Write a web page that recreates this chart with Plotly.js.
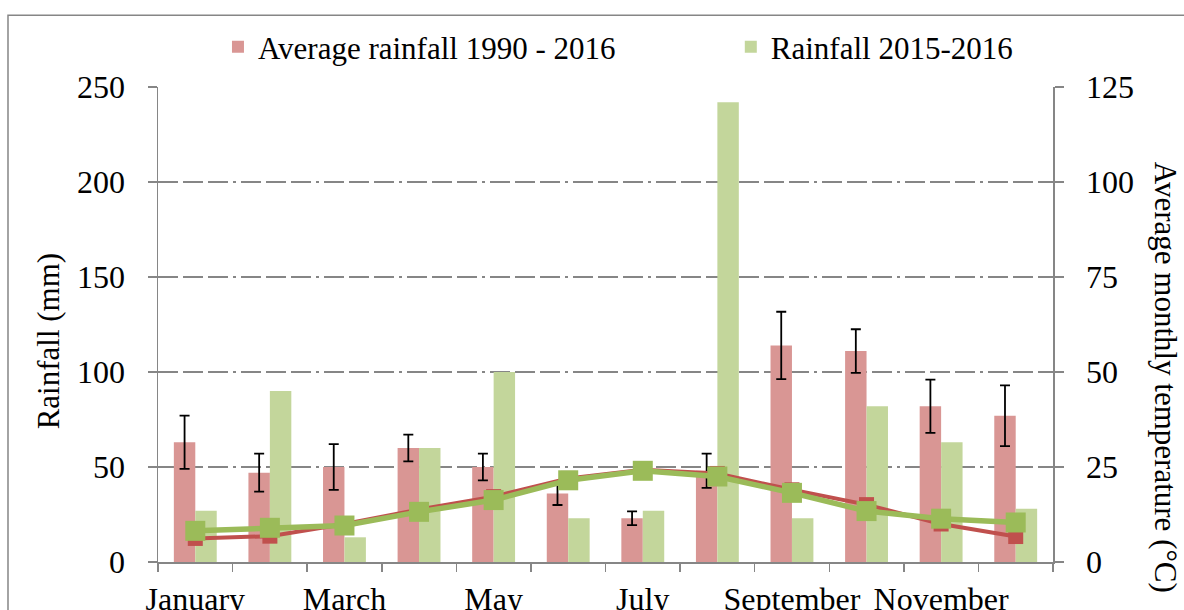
<!DOCTYPE html>
<html>
<head>
<meta charset="utf-8">
<script src="https://cdn.plot.ly/plotly-3.0.1.min.js"></script>
<style>html,body{margin:0;padding:0;background:#fff;}#chart{width:1184px;height:610px;}</style>
</head>
<body>
<div id="chart"></div>
<script>
const months = ["January","February","March","April","May","June","July","August","September","October","November","December"];
const tickLabels = ["January","","March","","May","","July","","September","","November",""];
const avgRainfall = [63, 47, 50, 60, 50, 36, 23, 48, 114, 111, 82, 77];
const avgRainfallErr = [14, 10, 12, 7, 7, 6, 3.6, 9, 17.7, 11.5, 14, 16];
const rainfall2016 = [27, 90, 13, 60, 100, 23, 27, 242, 23, 82, 63, 28];
const avgTemp = [6.2, 6.8, 10.0, 13.8, 17.2, 22.0, 24.3, 23.3, 19.0, 15.1, 10.0, 6.7];
const temp2016 = [8.2, 9.0, 9.6, 13.2, 16.3, 21.5, 24.0, 22.5, 18.2, 13.4, 11.4, 10.4];

const FONT = "Liberation Serif, serif";
const GRAY = "#868686";

const traces = [
  {type:"bar", name:"Average rainfall 1990 - 2016", x:months, y:avgRainfall,
   marker:{color:"#d99694"}, legend:"legend",
   error_y:{type:"data", array:avgRainfallErr, visible:true, color:"#000", thickness:1.8, width:5}},
  {type:"bar", name:"Rainfall 2015-2016", x:months, y:rainfall2016,
   marker:{color:"#c3d69b"}, legend:"legend2"},
  {type:"scatter", mode:"lines+markers", name:"Average temperature 1990 - 2016", x:months, y:avgTemp, yaxis:"y2",
   line:{color:"#c0504d", width:4}, marker:{symbol:"square", size:15, color:"#c0504d"}, showlegend:false},
  {type:"scatter", mode:"lines+markers", name:"Temperature 2015-2016", x:months, y:temp2016, yaxis:"y2",
   line:{color:"#9bbb59", width:5.5}, marker:{symbol:"square", size:20, color:"#9bbb59"}, showlegend:false}
];

const layout = {
  width:1184, height:610,
  margin:{l:158, r:131, t:87, b:48},
  paper_bgcolor:"#fff", plot_bgcolor:"#fff",
  font:{family:FONT, size:32, color:"#000"},
  barmode:"group", bargap:0.425, bargroupgap:0,
  showlegend:true,
  legend:{orientation:"h", x:0.067, xanchor:"left", y:1.084, yanchor:"middle", font:{family:FONT, size:31, color:"#000"}, bgcolor:"rgba(0,0,0,0)"},
  legend2:{orientation:"h", x:0.640, xanchor:"left", y:1.084, yanchor:"middle", font:{family:FONT, size:31, color:"#000"}, bgcolor:"rgba(0,0,0,0)"},
  xaxis:{type:"category", range:[-0.5, 11.5], autorange:false, tickmode:"array", tickvals:months, ticktext:tickLabels, tickson:"boundaries",
    tickangle:0, ticks:"outside", ticklen:8, tickcolor:GRAY, tickwidth:1.5, showline:true, linecolor:GRAY, linewidth:1.5,
    showgrid:false, ticklabelstandoff:8, tickfont:{family:FONT, size:32, color:"#000"}},
  yaxis:{range:[0,250], tickmode:"linear", tick0:0, dtick:50, ticks:"outside", ticklen:9, tickcolor:GRAY, tickwidth:1.5,
    showline:true, linecolor:GRAY, linewidth:1.5, showgrid:true, gridcolor:GRAY, gridwidth:1.5,
    griddash:"20px,5px,20px,5px,20px,5px,3px,5px", zeroline:false, ticklabelstandoff:16, tickfont:{family:FONT, size:32, color:"#000"}},
  yaxis2:{range:[0,125], tickmode:"linear", tick0:0, dtick:25, overlaying:"y", side:"right", ticks:"outside", ticklen:9,
    tickcolor:GRAY, tickwidth:1.5, showline:true, linecolor:GRAY, linewidth:1.5, showgrid:false, zeroline:false,
    ticklabelstandoff:16, tickfont:{family:FONT, size:32, color:"#000"}},
  annotations:[
    {text:"Rainfall (mm)", xref:"paper", yref:"paper", x:-0.1229, y:0.4646, xanchor:"center", yanchor:"middle",
     textangle:-90, showarrow:false, font:{family:FONT, size:31, color:"#000"}},
    {text:"Average monthly temperature (°C)", xref:"paper", yref:"paper", x:1.1251, y:0.8457, xanchor:"center", yanchor:"top",
     textangle:90, showarrow:false, font:{family:FONT, size:31, color:"#000"}}
  ],
  shapes:[
    {type:"rect", xref:"paper", yref:"paper", x0:-0.1676, x1:1.3, y0:-0.3, y1:1.1509,
     line:{color:GRAY, width:1.5}, fillcolor:"rgba(0,0,0,0)", layer:"below"}
  ]
};

Plotly.newPlot("chart", traces, layout, {displayModeBar:false, staticPlot:true});
</script>
</body>
</html>
